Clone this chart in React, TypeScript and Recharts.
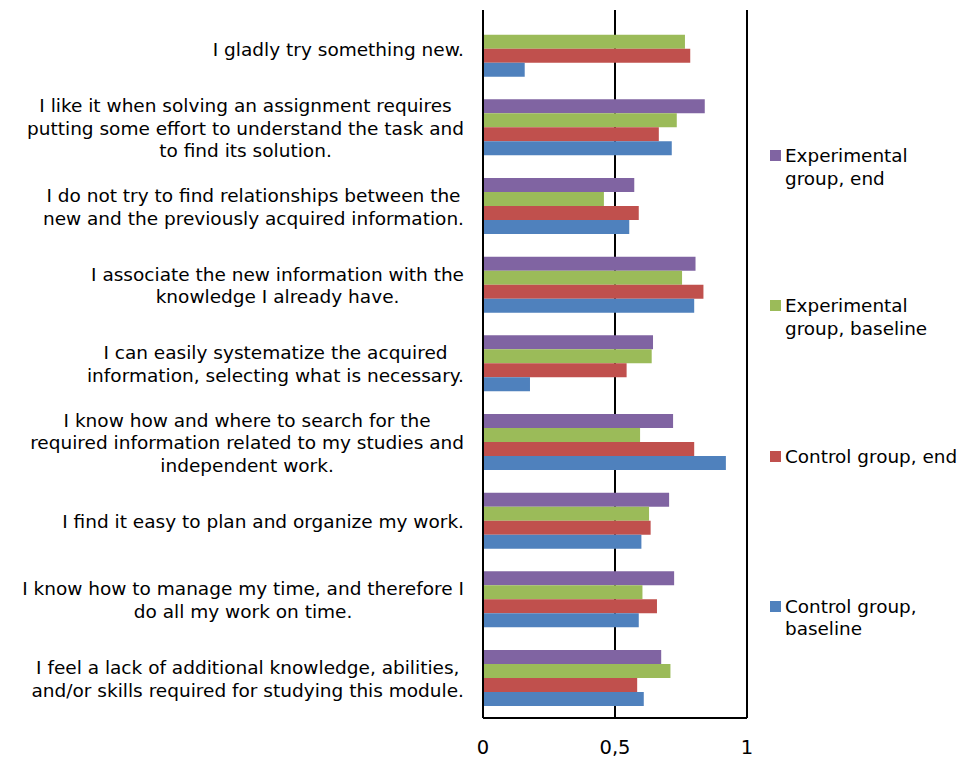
import { BarChart, Bar, XAxis, YAxis, CartesianGrid } from 'recharts'

// statements, top to bottom, already wrapped the way the source shows them
const statements = [
  ['I gladly try something new.'],
  ['I like it when solving an assignment requires', 'putting some effort to understand the task and', 'to find its solution.'],
  ['I do not try to find relationships between the', 'new and the previously acquired information.'],
  ['I associate the new information with the', 'knowledge I already have.'],
  ['I can easily systematize the acquired', 'information, selecting what is necessary.'],
  ['I know how and where to search for the', 'required information related to my studies and', 'independent work.'],
  ['I find it easy to plan and organize my work.'],
  ['I know how to manage my time, and therefore I', 'do all my work on time.'],
  ['I feel a lack of additional knowledge, abilities,', 'and/or skills required for studying this module.'],
]

const expEnd = [0, 0.84, 0.573, 0.805, 0.644, 0.72, 0.705, 0.724, 0.675]
const expBase = [0.765, 0.734, 0.458, 0.754, 0.639, 0.595, 0.629, 0.604, 0.71]
const ctrlEnd = [0.785, 0.666, 0.59, 0.835, 0.544, 0.8, 0.635, 0.659, 0.584]
const ctrlBase = [0.158, 0.715, 0.554, 0.8, 0.178, 0.92, 0.6, 0.59, 0.609]

const xTicks = [0, 0.5, 1]

const series = [
  { key: 'expEnd', name: 'Experimental group, end', color: '#8064A2', values: expEnd },
  { key: 'expBase', name: 'Experimental group, baseline', color: '#9BBB59', values: expBase },
  { key: 'ctrlEnd', name: 'Control group, end', color: '#C0504D', values: ctrlEnd },
  { key: 'ctrlBase', name: 'Control group, baseline', color: '#4F81BD', values: ctrlBase },
]

const FONT = '"DejaVu Sans", Verdana, sans-serif'
const LABEL_SIZE = 18.5

const chartData = statements.map((lines, i) => {
  const row: Record<string, any> = { name: lines.join(' '), idx: i }
  series.forEach(s => { row[s.key] = s.values[i] })
  return row
})

let measureCtx: CanvasRenderingContext2D | null = null
function textWidth(t: string) {
  if (!measureCtx) {
    measureCtx = document.createElement('canvas').getContext('2d')
  }
  if (!measureCtx) return t.length * LABEL_SIZE * 0.58
  measureCtx.font = `${LABEL_SIZE}px ${FONT}`
  return measureCtx.measureText(t).width
}

function StatementTick(props: any) {
  const { x, y, index } = props
  const lines = statements[index] || [String(props.payload.value)]
  const blockW = Math.max(...lines.map(textWidth))
  const cx = x - blockW / 2
  const lh = 22.5
  const y0 = y - ((lines.length - 1) * lh) / 2
  return (
    <text textAnchor="middle" fontFamily={FONT} fontSize={LABEL_SIZE} fill="#000">
      {lines.map((l, i) => (
        <tspan key={i} x={cx} y={y0 + i * lh} dy="0.36em">{l}</tspan>
      ))}
    </text>
  )
}

function Legend() {
  return (
    <>
      {series.map((s, i) => (
        <div
          key={s.key}
          style={{
            position: 'absolute',
            left: 770,
            top: 145 + i * 150.3,
            width: 194,
            display: 'flex',
            fontFamily: FONT,
            fontSize: 18.4,
            lineHeight: '22.5px',
            color: '#000',
          }}
        >
          <div style={{ width: 11, height: 11, marginTop: 5, background: s.color, flexShrink: 0 }} />
          <div style={{ marginLeft: 4, width: 178 }}>{s.name}</div>
        </div>
      ))}
    </>
  )
}

export default function App() {
  return (
    <div style={{ position: 'relative', width: 964, height: 760, background: '#fff' }}>
      <style>{'body{margin:0}'}</style>
      <BarChart
        width={964}
        height={760}
        data={chartData}
        layout="vertical"
        margin={{ top: 10, right: 217, bottom: 0, left: 0 }}
        barCategoryGap="13.6%"
        barGap={0}
      >
        <CartesianGrid horizontal={false} stroke="#000" strokeWidth={2} />
        <XAxis
          type="number"
          domain={[0, 1]}
          ticks={xTicks}
          height={42}
          tickSize={0}
          tickMargin={22}
          tickFormatter={(v: number) => String(v).replace('.', ',')}
          tick={{ fill: '#000', fontSize: 19.5, fontFamily: FONT }}
          axisLine={{ stroke: '#000', strokeWidth: 2 }}
        />
        <YAxis
          type="category"
          dataKey="name"
          width={483}
          tickSize={0}
          tickMargin={19}
          interval={0}
          tick={<StatementTick />}
          axisLine={{ stroke: '#000', strokeWidth: 2 }}
        />
        {series.map(s => (
          <Bar key={s.key} dataKey={s.key} name={s.name} fill={s.color} isAnimationActive={false} />
        ))}
      </BarChart>
      <Legend />
    </div>
  )
}
